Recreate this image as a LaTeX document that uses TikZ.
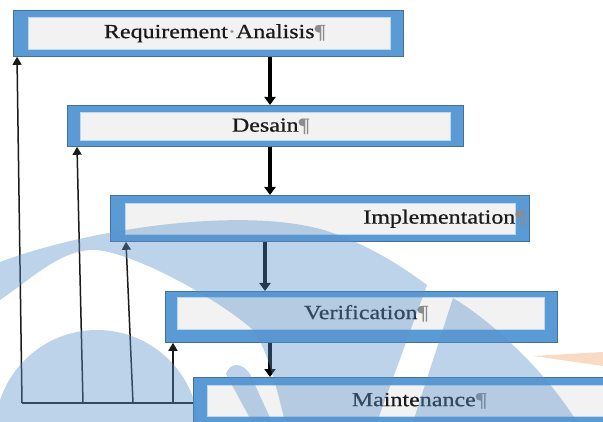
\documentclass[tikz,border=0pt]{standalone}
\usepackage{fontspec}
\setmainfont[FakeBold=0.6]{Liberation Serif}
\usepackage{graphicx}
\usepackage{xcolor}
\usetikzlibrary{arrows.meta, positioning}

\definecolor{boxblue}{HTML}{5B9BD5}
\definecolor{boxedge}{HTML}{41719C}
\definecolor{panelgray}{HTML}{F2F2F2}
\definecolor{markgray}{HTML}{8C8C8C}
\definecolor{inkdark}{HTML}{1A1A1A}
\definecolor{wmblue}{RGB}{90,145,202}
\definecolor{wmorange}{HTML}{F9DAC4}

\newcommand{\stagetext}[1]{\scalebox{1.2}[1]{\fontsize{20}{24}\selectfont #1}}
\newcommand{\pil}{\rlap{\color{markgray}¶}}

\begin{document}
\begin{tikzpicture}[x=1pt, y=-1pt,
  frame/.style={rectangle, draw=boxedge, line width=0.8pt, fill=boxblue,
                anchor=north west, inner sep=0pt},
  panel/.style={rectangle, draw=white!60!boxblue, line width=0.6pt,
                fill=panelgray, anchor=north west, inner sep=0pt, text=inkdark},
  flow/.style={-{Triangle[length=8pt,width=11pt]}, line width=4pt, draw=black},
  back/.style={-{Triangle[length=8pt,width=9pt]}, line width=1.5pt, draw=inkdark},
  watermark/.style={fill=wmblue, fill opacity=0.4}
]
\useasboundingbox (0,0) rectangle (603,422);
\clip (0,0) rectangle (603,422);

% stages
\node[frame, minimum width=390pt, minimum height=46pt] (req) at (13,10) {};
\node[panel, minimum width=362pt, minimum height=32pt] (reqtxt) at (28,17)
     {\stagetext{Requirement{\color{markgray}·}Analisis\pil}};
\node[frame, minimum width=396pt, minimum height=41pt] (des) at (67,105) {};
\node[panel, minimum width=370pt, minimum height=28pt] (destxt) at (80,112)
     {\stagetext{Desain\pil}};
\node[frame, minimum width=419pt, minimum height=46pt] (imp) at (110,195) {};
\node[panel, text width=390pt, align=right, minimum height=31pt] (imptxt) at (125,203)
     {\stagetext{Implementation\pil}};
\node[frame, minimum width=392pt, minimum height=51pt] (ver) at (165,291) {};
\node[panel, minimum width=367pt, minimum height=32pt] (vertxt) at (177,297)
     {\stagetext{Verification\pil}};
\node[frame, minimum width=430pt, minimum height=60pt] (mai) at (193,377) {};
\node[panel, minimum width=413pt, minimum height=31pt] (maitxt) at (207,385)
     {\stagetext{Maintenance\pil}};

% flow down
\coordinate (spine) at (270,0);
\coordinate (spineb) at (265,0);
\draw[flow] (req.south -| spine) -- (des.north -| spine);
\draw[flow] (des.south -| spine) -- (imp.north -| spine);
\draw[flow] (imp.south -| spineb) -- (ver.north -| spineb);
\draw[flow] (ver.south -| spine) -- (mai.north -| spine);

% feedback
\coordinate (foot1) at (22,403);
\coordinate (foot2) at (83,403);
\coordinate (foot3) at (133,403);
\coordinate (foot4) at (173,403);
\draw[line width=1.5pt, draw=inkdark] (mai.west |- foot1) -- (foot1);
\draw[back] (foot1) -- ([xshift=4pt]req.south west);
\draw[back] (foot2) -- ([xshift=10pt]des.south west);
\draw[back] (foot3) -- ([xshift=16pt]imp.south west);
\draw[back] (foot4) -- ([xshift=8pt]ver.south west);

% watermark
\fill[watermark] (0,262) .. controls (90,228) and (250,205) .. (330,232)
  .. controls (370,246) and (400,265) .. (427,285) -- (377,422) -- (285,422)
  .. controls (275,380) and (265,345) .. (253,330)
  .. controls (220,300) and (130,250) .. (93,250)
  .. controls (60,250) and (30,280) .. (0,300) -- cycle;
\fill[watermark] (97,432) circle[radius=102pt];
\fill[watermark] (453,298) -- (413,422) -- (577,422)
  .. controls (545,370) and (490,320) .. (453,298) -- cycle;
\fill[watermark] (226,374) .. controls (230,362) and (242,362) .. (250,374)
  -- (272,422) -- (252,422) -- cycle;
\fill[wmorange] (533,356) -- (603,352) -- (603,366) -- cycle;
\end{tikzpicture}
\end{document}
